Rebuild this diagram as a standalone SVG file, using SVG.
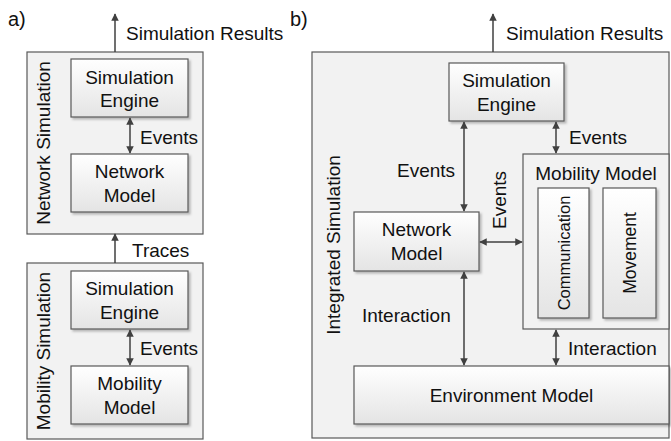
<svg xmlns="http://www.w3.org/2000/svg" width="671" height="441" viewBox="0 0 671 441">
  <style>
    text { font-family: "Liberation Sans", Arial, sans-serif; font-size: 19px; fill: #111111; }
    .c { text-anchor: middle; dominant-baseline: central; }
    .l { text-anchor: start; dominant-baseline: central; }
    .tag { font-size: 20px; }
    .small { font-size: 17.5px; }
    .narrow { font-size: 16.5px; }
    .outer { fill: #f2f2f2; stroke: #595959; stroke-width: 1.2; }
    .box { fill: url(#boxGrad); stroke: #595959; stroke-width: 1.2; filter: url(#shadow); }
    .wire { stroke: #404040; stroke-width: 1.5; fill: none; }
    .one { marker-end: url(#head); }
    .two { marker-start: url(#tail); marker-end: url(#head); }
  </style>
  <defs>
    <linearGradient id="boxGrad" x1="0" y1="0" x2="0" y2="1">
      <stop offset="0" stop-color="#ffffff"/>
      <stop offset="1" stop-color="#e4e4e4"/>
    </linearGradient>
    <filter id="shadow" x="-10%" y="-10%" width="130%" height="130%">
      <feDropShadow dx="2" dy="2" stdDeviation="1.2" flood-color="#000" flood-opacity="0.25"/>
    </filter>
    <marker id="head" viewBox="0 0 10 10" refX="9" refY="5" markerWidth="5" markerHeight="5" orient="auto" markerUnits="strokeWidth">
      <path d="M0,0 L10,5 L0,10 Z" fill="#404040"/>
    </marker>
    <marker id="tail" viewBox="0 0 10 10" refX="1" refY="5" markerWidth="5" markerHeight="5" orient="auto" markerUnits="strokeWidth">
      <path d="M10,0 L0,5 L10,10 Z" fill="#404040"/>
    </marker>
  </defs>

  <!-- panel labels -->
  <text x="8" y="19" class="l tag">a)</text>
  <text x="290" y="19" class="l tag">b)</text>

  <!-- a) network simulation -->
  <g id="net-sim">
    <rect class="outer" x="27" y="52" width="176" height="182"/>
    <text class="c" transform="translate(43,143) rotate(-90)">Network Simulation</text>
  </g>
  <g id="a-engine">
    <rect class="box" x="71" y="59" width="117" height="58"/>
    <text class="c" x="129.5" y="77">Simulation</text>
    <text class="c" x="129.5" y="100">Engine</text>
  </g>
  <g id="a-network-model">
    <rect class="box" x="71" y="154" width="117" height="58"/>
    <text class="c" x="129.5" y="171">Network</text>
    <text class="c" x="129.5" y="195">Model</text>
  </g>

  <!-- a) mobility simulation -->
  <g id="mob-sim">
    <rect class="outer" x="27" y="263" width="176" height="176"/>
    <text class="c" transform="translate(43,351) rotate(-90)">Mobility Simulation</text>
  </g>
  <g id="a-mob-engine">
    <rect class="box" x="71" y="271" width="117" height="58"/>
    <text class="c" x="129.5" y="288">Simulation</text>
    <text class="c" x="129.5" y="312">Engine</text>
  </g>
  <g id="a-mobility-model">
    <rect class="box" x="71" y="366" width="117" height="58"/>
    <text class="c" x="129.5" y="383">Mobility</text>
    <text class="c" x="129.5" y="407">Model</text>
  </g>

  <!-- b) integrated simulation -->
  <g id="int-sim">
    <rect class="outer" x="312" y="52" width="357" height="386"/>
    <text class="c" transform="translate(333,245) rotate(-90)">Integrated Simulation</text>
  </g>
  <g id="b-engine">
    <rect class="box" x="449" y="63" width="115" height="58"/>
    <text class="c" x="506.5" y="80">Simulation</text>
    <text class="c" x="506.5" y="104">Engine</text>
  </g>
  <g id="b-network-model">
    <rect class="box" x="354" y="212" width="125" height="59"/>
    <text class="c" x="416.5" y="229">Network</text>
    <text class="c" x="416.5" y="253">Model</text>
  </g>
  <g id="b-mobility-model">
    <rect class="outer" x="523" y="154" width="146" height="175"/>
    <text class="c" x="596" y="173">Mobility Model</text>
  </g>
  <g id="communication">
    <rect class="box" x="538" y="188" width="51" height="130"/>
    <text class="c narrow" transform="translate(563.5,253) rotate(-90)">Communication</text>
  </g>
  <g id="movement">
    <rect class="box" x="603" y="188" width="53" height="130"/>
    <text class="c small" transform="translate(629.5,253) rotate(-90)">Movement</text>
  </g>
  <g id="environment-model">
    <rect class="box" x="354" y="366" width="315" height="58"/>
    <text class="c" x="511.5" y="395">Environment Model</text>
  </g>

  <!-- connectors -->
  <g id="connectors">
    <line class="wire one" x1="115" y1="52" x2="115" y2="14"/>
    <line class="wire two" x1="130" y1="118" x2="130" y2="153"/>
    <line class="wire one" x1="115" y1="263" x2="115" y2="234"/>
    <line class="wire two" x1="130" y1="330" x2="130" y2="365"/>

    <line class="wire one" x1="493" y1="52" x2="493" y2="14"/>
    <line class="wire two" x1="464" y1="122" x2="464" y2="211"/>
    <line class="wire two" x1="556" y1="122" x2="556" y2="153"/>
    <line class="wire two" x1="480" y1="242" x2="522" y2="242"/>
    <line class="wire two" x1="464" y1="272" x2="464" y2="365"/>
    <line class="wire two" x1="556" y1="330" x2="556" y2="365"/>

    <text class="l" x="126" y="33">Simulation Results</text>
    <text class="l" x="140" y="137">Events</text>
    <text class="l" x="132" y="250">Traces</text>
    <text class="l" x="140" y="348">Events</text>

    <text class="l" x="506" y="33">Simulation Results</text>
    <text class="l" x="397" y="170">Events</text>
    <text class="l" x="569" y="137">Events</text>
    <text class="c" transform="translate(499,200) rotate(-90)">Events</text>
    <text class="l" x="362" y="315">Interaction</text>
    <text class="l" x="568" y="348">Interaction</text>
  </g>
</svg>
